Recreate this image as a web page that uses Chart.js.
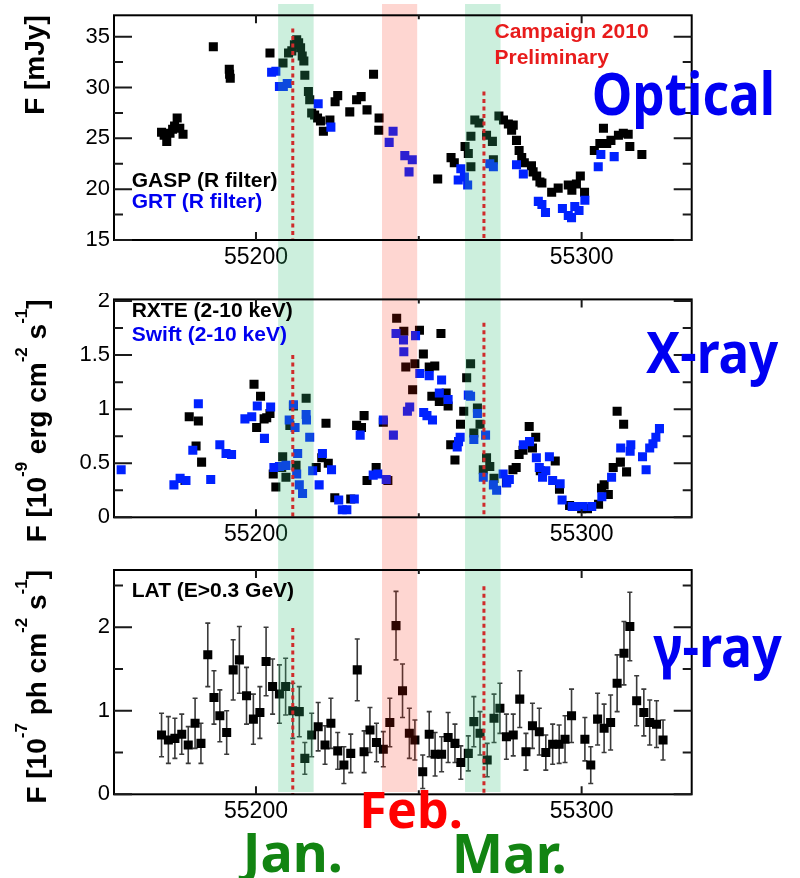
<!DOCTYPE html>
<html>
<head>
<meta charset="utf-8">
<script src="https://cdn.jsdelivr.net/npm/chart.js@4.4.1/dist/chart.umd.min.js"></script>
<style>
  html, body { margin: 0; padding: 0; background: #fff; }
  #wrap { position: relative; width: 800px; height: 878px; overflow: hidden; }
  #wrap canvas { position: absolute; left: 0; }
</style>
</head>
<body>
<div id="wrap">
  <canvas id="cOpt" width="800" height="293" style="top:0px"></canvas>
  <canvas id="cXr" width="800" height="252" style="top:293px"></canvas>
  <canvas id="cGr" width="800" height="333" style="top:545px"></canvas>
</div>
<script>
// ---------------- time axis (MJD) ----------------
const xRange = [55156.4, 55333.8];
const xLabelTicks = [55200, 55300];
const xMinorTicks = [55250];

// ---------------- flux axes ----------------
const optRange = [15, 37.1];
const optTicks = [15, 20, 25, 30, 35];
const optMinor = [17.5, 22.5, 27.5, 32.5];

const xrRange = [0, 2.015];
const xrTicks = [0, 0.5, 1, 1.5, 2];
const xrMinor = [0.25, 0.75, 1.25, 1.75];

const grRange = [0, 2.686];
const grTicks = [0, 1, 2];
const grMinor = [0.5, 1.5, 2.5];

// ---------------- campaign windows and reference epochs ----------------
const windowStart = [55206.8, 55238.7, 55264.2];
const windowEnd   = [55217.7, 55249.5, 55275.1];
const epochMjd = [55211.3, 55270.0];
const optEpochTop = [35.8, 29.6];
const xrEpochTop  = [1.50, 1.80];
const grEpochTop  = [1.99, 2.49];

// ---------------- optical: GASP (R filter) ----------------
const gaspMjd = [55171.0, 55171.8, 55172.6, 55173.6, 55174.4, 55175.0, 55175.8, 55176.6, 55177.6,
  55186.9, 55191.8, 55191.9, 55192.1, 55204.3, 55208.3, 55210.0, 55211.0, 55211.8, 55212.5, 55213.1,
  55213.7, 55214.2, 55214.7, 55215.0, 55216.1, 55216.5, 55217.1, 55218.0, 55218.9, 55219.8, 55220.7,
  55222.7, 55224.3, 55225.1, 55228.8, 55230.9, 55232.3, 55234.1, 55236.1, 55237.8, 55237.7,
  55255.8, 55259.9, 55260.9, 55264.2, 55265.2, 55266.0, 55266.0, 55267.2, 55268.5, 55270.8, 55272.6,
  55272.9, 55274.6, 55276.0, 55277.5, 55278.5, 55279.0, 55280.0, 55280.8, 55281.6, 55282.4, 55284.6,
  55285.1, 55286.2, 55287.2, 55287.8, 55290.8, 55292.8, 55295.9, 55297.0, 55298.4, 55299.6, 55300.9,
  55303.9, 55305.6, 55306.7, 55307.7, 55309.0, 55311.3, 55312.8, 55314.3, 55314.8, 55318.5];
const gaspFlux = [25.6, 25.3, 24.7, 25.5, 25.9, 26.2, 27.0, 26.0, 25.4,
  34.0, 31.8, 31.3, 30.9, 33.4, 32.4, 33.4, 33.6, 34.2, 34.7, 34.4,
  33.9, 33.1, 32.6, 31.2, 29.6, 28.8, 27.5, 27.3, 27.0, 26.7, 25.7,
  26.8, 28.6, 29.2, 27.6, 28.8, 29.1, 27.8, 31.3, 27.0, 25.8,
  21.0, 23.1, 22.6, 24.2, 23.5, 25.2, 22.2, 26.8, 26.5, 25.3, 24.7,
  22.9, 27.2, 26.8, 26.4, 25.8, 26.3, 24.8, 23.8, 23.1, 22.6, 22.3,
  21.7, 21.3, 20.7, 20.6, 19.7, 20.1, 20.4, 19.9, 20.5, 21.3, 19.7,
  23.8, 24.5, 26.0, 24.5, 24.8, 25.3, 25.5, 25.4, 24.2, 23.4];

// ---------------- optical: GRT (R filter) ----------------
const grtMjd = [55204.8, 55206.1, 55207.2, 55208.4, 55209.6, 55219.1, 55223.0, 55240.9, 55242.1,
  55245.7, 55247.0, 55248.0, 55262.1, 55262.9, 55264.0, 55265.0, 55271.8, 55272.9, 55280.0, 55282.1,
  55286.7, 55287.8, 55288.9, 55294.1, 55295.9, 55296.9, 55297.9, 55299.2, 55301.0, 55305.1, 55305.9, 55310.0];
const grtFlux = [31.5, 31.6, 30.1, 30.1, 30.4, 28.4, 26.1, 24.6, 25.7,
  23.3, 21.7, 22.9, 20.9, 22.0, 21.2, 20.4, 22.5, 22.2, 22.4, 21.5,
  18.8, 18.5, 17.7, 18.1, 17.4, 17.2, 18.3, 17.9, 18.9, 22.2, 23.4, 23.2];

// ---------------- X-ray: RXTE (2-10 keV) ----------------
const rxteMjd = [55178.2, 55179.5, 55181.6, 55182.3, 55183.3, 55199.4, 55200.2, 55201.4, 55202.5, 55203.3,
  55204.3, 55205.3, 55206.1, 55207.9, 55208.2, 55209.2, 55210.4, 55211.5, 55212.3, 55215.4,
  55218.5, 55220.2, 55221.5, 55222.2, 55224.2, 55229.1, 55230.9, 55232.4, 55233.2, 55234.1,
  55236.9, 55239.1, 55240.5, 55243.2, 55245.4, 55246.0, 55248.1, 55248.8, 55250.2, 55251.4,
  55253.2, 55254.0, 55254.9, 55256.3, 55256.8, 55258.4, 55259.0, 55259.8, 55261.1, 55262.8,
  55263.8, 55264.7, 55265.9, 55266.9, 55268.0, 55268.8, 55269.8, 55270.8, 55271.8, 55273.1,
  55276.9, 55278.9, 55279.9, 55280.8, 55282.0, 55283.9, 55284.9, 55285.9, 55287.3, 55291.9,
  55293.2, 55296.3, 55297.9, 55300.0, 55301.8, 55305.2, 55306.1, 55306.9, 55308.2, 55309.7,
  55310.9, 55311.9, 55312.9, 55313.8];
const rxteFlux = [0.34, 0.93, 0.66, 0.89, 0.51, 1.23, 0.83, 1.12, 0.91, 0.92,
  0.96, 0.40, 0.28, 0.46, 0.56, 0.37, 0.85, 1.03, 0.48, 1.10,
  0.46, 0.55, 0.87, 0.50, 0.18, 0.17, 0.85, 0.83, 0.94, 0.34,
  0.46, 0.88, 0.34, 1.84, 1.72, 1.39, 1.18, 1.42, 1.73, 1.51,
  1.39, 1.12, 1.40, 1.07, 1.70, 1.15, 1.03, 0.67, 0.53, 0.86,
  0.98, 1.29, 1.42, 0.78, 1.01, 0.86, 0.44, 0.55, 0.47, 0.36,
  0.32, 0.44, 0.46, 0.58, 0.62, 0.84, 0.64, 0.74, 0.43, 0.52,
  0.26, 0.11, 0.10, 0.08, 0.08, 0.12, 0.27, 0.30, 0.21, 0.46,
  0.98, 0.51, 0.86, 0.42];

// ---------------- X-ray: Swift (2-10 keV) ----------------
const swiftMjd = [55158.6, 55174.8, 55176.7, 55178.5, 55180.6, 55182.3, 55186.1, 55188.9, 55190.8, 55192.5,
  55196.6, 55198.7, 55200.4, 55202.6, 55204.5, 55205.5, 55207.2, 55209.2, 55210.2, 55211.5,
  55212.0, 55212.5, 55212.8, 55213.3, 55214.3, 55215.4, 55215.5, 55216.5, 55217.4, 55219.4,
  55220.4, 55223.2, 55225.4, 55226.5, 55227.9, 55230.2, 55232.0, 55236.0, 55237.4, 55239.1,
  55240.0, 55242.2, 55243.0, 55245.3, 55245.4, 55246.5, 55247.2, 55249.0, 55250.3, 55251.5,
  55252.5, 55253.2, 55254.2, 55256.3, 55257.0, 55259.0, 55261.8, 55262.2, 55262.7, 55265.2,
  55265.9, 55266.9, 55268.0, 55269.8, 55270.5, 55272.9, 55273.9, 55275.9, 55277.0, 55277.8,
  55282.1, 55284.0, 55286.1, 55287.0, 55288.0, 55289.0, 55290.1, 55291.1, 55293.4, 55294.0,
  55297.1, 55298.8, 55300.3, 55303.1, 55306.2, 55309.2, 55312.0, 55314.9, 55315.1, 55318.7,
  55319.8, 55320.9, 55321.9, 55322.8, 55323.9];
const swiftFlux = [0.44, 0.30, 0.36, 0.34, 0.62, 1.05, 0.35, 0.67, 0.59, 0.58,
  0.91, 0.93, 1.03, 0.73, 1.02, 0.46, 0.47, 0.48, 0.90, 1.04,
  0.83, 0.40, 0.59, 0.30, 0.22, 0.95, 0.90, 0.74, 0.43, 0.30,
  0.59, 0.44, 0.16, 0.07, 0.07, 0.17, 0.76, 0.39, 0.40, 0.90,
  0.35, 0.76, 1.70, 1.64, 1.53, 0.98, 1.02, 1.68, 1.33, 0.97,
  0.94, 1.31, 0.90, 1.15, 1.27, 1.09, 0.65, 0.70, 0.74, 1.13,
  1.12, 0.72, 0.96, 0.37, 0.76, 0.30, 0.25, 0.40, 0.32, 0.35,
  0.67, 0.70, 0.55, 0.46, 0.37, 0.43, 0.56, 0.34, 0.31, 0.16,
  0.10, 0.10, 0.10, 0.10, 0.19, 0.37, 0.64, 0.61, 0.67, 0.56,
  0.44, 0.64, 0.68, 0.74, 0.82];

// ---------------- gamma-ray: LAT (E>0.3 GeV) ----------------
const latMjd = [55171.0, 55173.1, 55175.1, 55177.2, 55179.2, 55181.3, 55183.1, 55185.2, 55187.1, 55188.9,
  55191.0, 55193.0, 55194.9, 55197.1, 55199.2, 55201.2, 55203.1, 55205.1, 55207.2, 55209.1,
  55211.3, 55213.3, 55215.0, 55217.1, 55219.1, 55221.2, 55223.0, 55225.1, 55227.0, 55229.1,
  55231.1, 55233.2, 55235.0, 55237.0, 55239.1, 55241.1, 55243.0, 55245.0, 55247.1, 55248.8,
  55251.2, 55253.2, 55255.0, 55257.0, 55259.0, 55261.1, 55262.9, 55265.2, 55266.9, 55268.8,
  55271.0, 55273.1, 55274.9, 55276.9, 55279.0, 55281.0, 55282.9, 55284.9, 55287.0, 55289.0,
  55291.1, 55293.1, 55294.9, 55296.9, 55301.0, 55302.8, 55304.9, 55306.9, 55308.9, 55310.9,
  55313.0, 55314.8, 55316.9, 55319.1, 55320.9, 55323.0, 55325.0];
const latFlux = [0.71, 0.65, 0.67, 0.72, 0.59, 0.85, 0.61, 1.67, 1.16, 0.94,
  0.74, 1.49, 1.61, 1.18, 0.90, 0.98, 1.59, 1.29, 1.20, 1.29,
  1.00, 0.99, 0.43, 0.71, 0.81, 0.59, 0.85, 0.52, 0.35, 0.49,
  1.49, 0.51, 0.77, 0.62, 0.54, 0.86, 2.02, 1.24, 0.73, 0.65,
  0.27, 0.72, 0.48, 0.48, 0.68, 0.61, 0.38, 0.49, 0.87, 0.73,
  0.41, 0.91, 1.03, 0.69, 0.71, 1.14, 0.51, 0.82, 0.75, 0.50,
  0.60, 0.60, 0.66, 0.94, 0.66, 0.35, 0.90, 0.79, 0.86, 1.33,
  1.69, 2.01, 1.12, 0.98, 0.86, 0.84, 0.65];
const latErr = [0.26, 0.28, 0.24, 0.24, 0.22, 0.30, 0.24, 0.38, 0.32, 0.31,
  0.26, 0.36, 0.40, 0.34, 0.30, 0.31, 0.41, 0.33, 0.35, 0.34,
  0.33, 0.30, 0.19, 0.26, 0.29, 0.23, 0.30, 0.22, 0.22, 0.23,
  0.37, 0.25, 0.27, 0.23, 0.21, 0.29, 0.41, 0.32, 0.30, 0.24,
  0.20, 0.27, 0.26, 0.21, 0.30, 0.23, 0.20, 0.21, 0.30, 0.26,
  0.20, 0.29, 0.30, 0.27, 0.25, 0.34, 0.22, 0.27, 0.28, 0.21,
  0.24, 0.23, 0.28, 0.32, 0.26, 0.22, 0.31, 0.29, 0.33, 0.34,
  0.38, 0.41, 0.30, 0.28, 0.27, 0.28, 0.24];

// ---------------- drawing ----------------
const BLACK = '#000000';
const MARK_BLUE = 'rgb(0,34,255)';
const TEXT_BLUE = 'rgb(0,0,240)';
const LABEL_BLUE = '#0000f2';
const CAMPAIGN_RED = 'rgb(232,28,28)';
const MONTH_GREEN = 'rgb(18,132,18)';
const MONTH_RED = '#ff0000';
const WINDOW_COLORS = ['rgba(50,190,120,0.25)', 'rgba(250,30,0,0.18)', 'rgba(50,190,120,0.25)'];
const FRAME = { left: 114, right: 691.7 };
const WINDOW_SPAN = { top: 4, bottom: 792 };
const TICK_FONT = '"Liberation Sans", Arial, sans-serif';

const zip = (xs, ys) => xs.map((x, i) => ({ x, y: ys[i] }));

function markerSet(label, xs, ys, color) {
  return {
    label, data: zip(xs, ys),
    backgroundColor: color, borderWidth: 0,
    pointStyle: 'rect', pointRadius: 6.4, pointHoverRadius: 6.4, showLine: false
  };
}

function fitText(ctx, text, left, right, baseline, font, color) {
  ctx.save();
  ctx.font = font;
  ctx.fillStyle = color;
  ctx.textAlign = 'left';
  ctx.textBaseline = 'alphabetic';
  const w = ctx.measureText(text).width;
  ctx.translate(left, baseline);
  ctx.scale((right - left) / w, 1);
  ctx.fillText(text, 0, 0);
  ctx.restore();
}

// vertical axis title, read bottom-to-top, ending at the top of the frame
function axisTitle(ctx, parts, baseX, endY) {
  const main = 'bold 28px "Liberation Sans", Arial, sans-serif';
  const sup = 'bold 17px "Liberation Sans", Arial, sans-serif';
  ctx.save();
  ctx.fillStyle = BLACK;
  ctx.textBaseline = 'alphabetic';
  ctx.textAlign = 'left';
  let total = 0;
  parts.forEach(p => { ctx.font = p.sup ? sup : main; total += ctx.measureText(p.t).width; });
  ctx.translate(baseX, endY);
  ctx.rotate(-Math.PI / 2);
  let pos = -total;
  parts.forEach(p => {
    ctx.font = p.sup ? sup : main;
    ctx.fillText(p.t, pos, p.sup ? -19 : 0);
    pos += ctx.measureText(p.t).width;
  });
  ctx.restore();
}

function panelPlugin(p) {
  return {
    id: 'panel_' + p.key,
    beforeDatasetsDraw(chart) {
      if (!p.errors) return;
      const { ctx, scales: { x, y } } = chart;
      ctx.save();
      ctx.strokeStyle = '#3a3a3a';
      ctx.lineWidth = 1.6;
      p.errors.mjd.forEach((m, i) => {
        const px = x.getPixelForValue(m);
        const hi = y.getPixelForValue(p.errors.flux[i] + p.errors.err[i]);
        const lo = y.getPixelForValue(p.errors.flux[i] - p.errors.err[i]);
        ctx.beginPath();
        ctx.moveTo(px, hi); ctx.lineTo(px, lo);
        ctx.moveTo(px - 2.5, hi); ctx.lineTo(px + 2.5, hi);
        ctx.moveTo(px - 2.5, lo); ctx.lineTo(px + 2.5, lo);
        ctx.stroke();
      });
      ctx.restore();
    },
    afterDatasetsDraw(chart) {
      const { ctx, chartArea: a, scales: { x, y } } = chart;
      const H = chart.height;
      ctx.save();
      // campaign windows, laid over the markers
      windowStart.forEach((s, i) => {
        const x0 = x.getPixelForValue(s);
        const x1 = x.getPixelForValue(windowEnd[i]);
        const t = Math.max(0, WINDOW_SPAN.top - p.pageTop);
        const b = Math.min(H, WINDOW_SPAN.bottom - p.pageTop);
        if (b > t) {
          ctx.fillStyle = WINDOW_COLORS[i];
          ctx.fillRect(x0, t, x1 - x0, b - t);
        }
      });
      // reference epochs
      ctx.strokeStyle = '#cf2b2b';
      ctx.lineWidth = 3;
      ctx.setLineDash([4, 3.5]);
      epochMjd.forEach((m, i) => {
        const px = x.getPixelForValue(m);
        ctx.beginPath();
        ctx.moveTo(px, y.getPixelForValue(p.epochTop[i]));
        ctx.lineTo(px, a.bottom);
        ctx.stroke();
      });
      ctx.setLineDash([]);
      // frame
      ctx.strokeStyle = BLACK;
      ctx.lineWidth = 2;
      ctx.strokeRect(a.left, a.top, a.right - a.left, a.bottom - a.top);
      // inward ticks on all four sides
      ctx.strokeStyle = '#1a1a1a';
      ctx.lineWidth = 2;
      ctx.beginPath();
      const yTick = (v, len) => {
        const py = y.getPixelForValue(v);
        ctx.moveTo(a.left, py); ctx.lineTo(a.left + len, py);
        ctx.moveTo(a.right, py); ctx.lineTo(a.right - len, py);
      };
      const xTick = (v, len) => {
        const px = x.getPixelForValue(v);
        ctx.moveTo(px, a.bottom); ctx.lineTo(px, a.bottom - len);
        ctx.moveTo(px, a.top); ctx.lineTo(px, a.top + len);
      };
      p.yTicks.forEach(v => yTick(v, 18));
      p.yMinor.forEach(v => yTick(v, 9));
      xLabelTicks.forEach(v => xTick(v, 8));
      xMinorTicks.forEach(v => xTick(v, 4));
      ctx.stroke();
      ctx.restore();
    },
    afterDraw(chart) {
      const ctx = chart.ctx;
      const off = p.pageTop;
      axisTitle(ctx, p.title, p.titleX, chart.chartArea.top);
      ctx.save();
      ctx.font = 'bold 21px "Liberation Sans", Arial, sans-serif';
      ctx.textAlign = 'left';
      ctx.textBaseline = 'alphabetic';
      p.notes.forEach(n => { ctx.fillStyle = n.color; ctx.fillText(n.text, n.x, n.y - off); });
      ctx.restore();
      p.labels.forEach(l => fitText(ctx, l.text, l.left, l.right, l.base - off,
        'bold ' + l.size + 'px "Noto Sans", "Open Sans", sans-serif', l.color));
    }
  };
}

function makePanel(p) {
  const canvas = document.getElementById(p.canvas);
  const H = canvas.height;
  return new Chart(canvas, {
    type: 'scatter',
    data: { datasets: p.datasets },
    options: {
      responsive: false,
      animation: false,
      events: [],
      layout: { padding: { left: 0, right: 800 - FRAME.right, top: p.chartTop - p.pageTop, bottom: 0 } },
      plugins: { legend: { display: false }, tooltip: { enabled: false } },
      scales: {
        x: {
          type: 'linear', position: 'bottom', min: xRange[0], max: xRange[1],
          grid: { display: false, drawTicks: false }, border: { display: false },
          afterBuildTicks: s => { s.ticks = xLabelTicks.map(v => ({ value: v })); },
          afterFit: s => { s.height = p.pageTop + H - p.chartBottom; s.paddingLeft = 0; s.paddingRight = 0; },
          ticks: { color: BLACK, font: { family: TICK_FONT, size: 23 }, padding: 4,
                   maxRotation: 0, autoSkip: false, callback: v => String(v) }
        },
        y: {
          type: 'linear', position: 'left', min: p.range[0], max: p.range[1],
          grid: { display: false, drawTicks: false }, border: { display: false },
          afterBuildTicks: s => { s.ticks = p.yTicks.map(v => ({ value: v })); },
          afterFit: s => { s.width = FRAME.left; s.paddingTop = 0; s.paddingBottom = 0; },
          ticks: { color: BLACK, font: { family: TICK_FONT, size: 22 }, padding: 4,
                   autoSkip: false, callback: v => String(v) }
        }
      }
    },
    plugins: [panelPlugin(p)]
  });
}

makePanel({
  key: 'opt', canvas: 'cOpt', pageTop: 0, chartTop: 15.3, chartBottom: 240,
  range: optRange, yTicks: optTicks, yMinor: optMinor, epochTop: optEpochTop,
  datasets: [markerSet('GRT (R filter)', grtMjd, grtFlux, MARK_BLUE),
             markerSet('GASP (R filter)', gaspMjd, gaspFlux, BLACK)],
  title: [{ t: 'F [mJy]' }], titleX: 43.5,
  notes: [
    { text: 'GASP (R filter)', x: 131.7, y: 187.3, color: BLACK },
    { text: 'GRT (R filter)', x: 131.7, y: 208.3, color: TEXT_BLUE },
    { text: 'Campaign 2010', x: 494.5, y: 38.3, color: CAMPAIGN_RED },
    { text: 'Preliminary', x: 494.5, y: 64.3, color: CAMPAIGN_RED }
  ],
  labels: [{ text: 'Optical', left: 591.7, right: 775, base: 115, size: 60, color: LABEL_BLUE }]
});

makePanel({
  key: 'xr', canvas: 'cXr', pageTop: 293, chartTop: 293.3, chartBottom: 517.3,
  range: xrRange, yTicks: xrTicks, yMinor: xrMinor, epochTop: xrEpochTop,
  datasets: [markerSet('Swift (2-10 keV)', swiftMjd, swiftFlux, MARK_BLUE),
             markerSet('RXTE (2-10 keV)', rxteMjd, rxteFlux, BLACK)],
  title: [{ t: 'F [10' }, { t: '-9', sup: true }, { t: ' erg cm' }, { t: '-2', sup: true },
          { t: ' s' }, { t: '-1', sup: true }, { t: ']' }], titleX: 46,
  notes: [
    { text: 'RXTE (2-10 keV)', x: 131.7, y: 317.3, color: BLACK },
    { text: 'Swift (2-10 keV)', x: 131.7, y: 340.7, color: TEXT_BLUE }
  ],
  labels: [{ text: 'X-ray', left: 646, right: 778.3, base: 373.3, size: 57, color: LABEL_BLUE }]
});

makePanel({
  key: 'gr', canvas: 'cGr', pageTop: 545, chartTop: 570, chartBottom: 794.3,
  range: grRange, yTicks: grTicks, yMinor: grMinor, epochTop: grEpochTop,
  datasets: [markerSet('LAT (E>0.3 GeV)', latMjd, latFlux, BLACK)],
  errors: { mjd: latMjd, flux: latFlux, err: latErr },
  title: [{ t: 'F [10' }, { t: '-7', sup: true }, { t: ' ph cm' }, { t: '-2', sup: true },
          { t: ' s' }, { t: '-1', sup: true }, { t: ']' }], titleX: 46,
  notes: [{ text: 'LAT (E>0.3 GeV)', x: 131.7, y: 596.7, color: BLACK }],
  labels: [
    { text: 'γ-ray', left: 653.3, right: 781.7, base: 667.3, size: 57, color: LABEL_BLUE },
    { text: 'Jan.', left: 242.7, right: 343, base: 871.7, size: 53, color: MONTH_GREEN },
    { text: 'Feb.', left: 359.3, right: 463, base: 828.3, size: 51, color: MONTH_RED },
    { text: 'Mar.', left: 451.7, right: 566.7, base: 873.3, size: 53, color: MONTH_GREEN }
  ]
});
</script>
</body>
</html>
